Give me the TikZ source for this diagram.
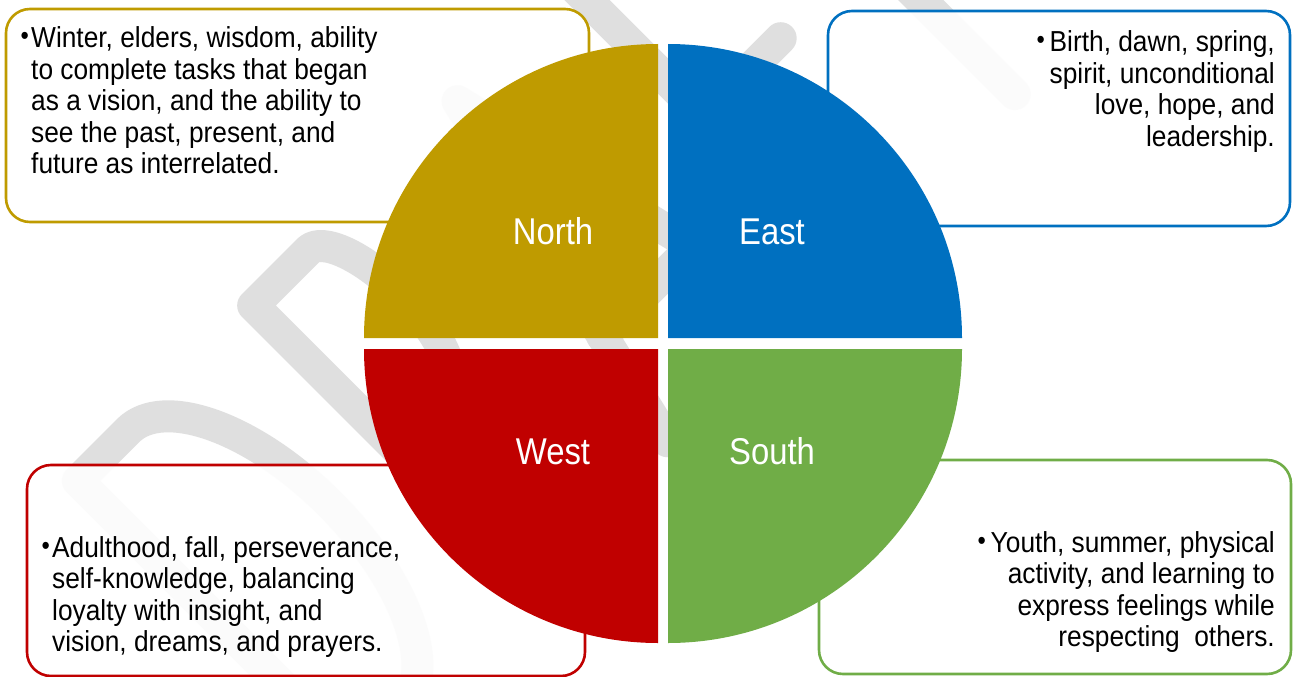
\documentclass[tikz,border=0pt]{standalone}
\usepackage{fontspec}
\setmainfont[FakeStretch=0.91]{Liberation Sans}
\newfontfamily\labelfamily[FakeStretch=0.88]{Liberation Sans}
\definecolor{northcol}{RGB}{191,155,0}
\definecolor{eastcol}{RGB}{0,112,192}
\definecolor{westcol}{RGB}{192,0,0}
\definecolor{southcol}{RGB}{112,173,71}
\definecolor{wmgray}{RGB}{223,223,223}
\newcommand\txtsize{\fontsize{28.9}{31.5}\selectfont}
\newcommand\dotmark{{\fontsize{26}{26}\selectfont\raisebox{3pt}{•}}}
\tikzset{
  infobox/.style={fill=white, fill opacity=0.9, line width=2.6pt, rounded corners=24pt},
  dirlabel/.style={text=white, inner sep=0pt, anchor=base, font=\labelfamily\fontsize{37.3}{40}\selectfont},
  bodytext/.style={inner sep=0pt, font=\txtsize, text=black},
  wmstroke/.style={draw=wmgray, line width=32pt, line cap=round, line join=round}
}
\begin{document}
\begin{tikzpicture}[x=1pt,y=-1pt]
\useasboundingbox (0,0) rectangle (1296,677);
\fill[white] (0,0) rectangle (1296,677);

% watermark lettering, drawn as stroked skeletons on a 45 degree baseline
\begin{scope}[shift={(554.4pt,-554.4pt)}, x={(0.7071pt,0.7071pt)}, y={(-0.7071pt,0.7071pt)}, wmstroke]
  % D
  \draw (-285,0) -- (-285,389) -- (-214,389)
        arc[start angle=90, end angle=-90, x radius=91, y radius=194.5] -- cycle;
  % R
  \draw (-37,0) -- (-37,389) -- (41,389)
        arc[start angle=90, end angle=-90, x radius=35, y radius=97] -- (-37,195);
  \draw (20,195) -- (95,0);
  % A
  \draw (160,0) -- (252,389) -- (344,0);
  \draw (188,120) -- (316,120);
  % F
  \draw (540,389) -- (415,389) -- (415,0);
  \draw (415,205) -- (525,205);
  % T
  \draw (570,389) -- (732,389);
  \draw (651,389) -- (651,0);
\end{scope}

% description boxes
\path[infobox, draw=northcol] (6,9) rectangle (589,222);
\path[infobox, draw=eastcol] (828,11) rectangle (1290,226);
\path[infobox, draw=westcol] (27,465) rectangle (585,676);
\path[infobox, draw=southcol] (819,460) rectangle (1291,674);

% the four quarters of the wheel
\fill[northcol] (658,338) -- (364,338) arc[start angle=180, end angle=270, radius=294] -- cycle;
\fill[eastcol]  (668,338) -- (668,44)  arc[start angle=270, end angle=360, radius=294] -- cycle;
\fill[westcol]  (658,349) -- (364,349) arc[start angle=180, end angle=90,  radius=294] -- cycle;
\fill[southcol] (668,349) -- (962,349) arc[start angle=0,   end angle=90,  radius=294] -- cycle;

\node[dirlabel] (north) at (553,244) {North};
\node[dirlabel] (east)  at (772,244) {East};
\node[dirlabel] (west)  at (553,464) {West};
\node[dirlabel] (south) at (772,464) {South};

% North text
\node[bodytext, anchor=base east] (nbul) at (29,48) {\dotmark};
\node[bodytext, anchor=base west] (ntext) at (31,48) {\parbox[t]{420pt}{\raggedright
  Winter, elders, wisdom, ability\\
  to complete tasks that began\\
  as a vision, and the ability to\\
  see the past, present, and\\
  future as interrelated.}};

% East text
\node[bodytext, anchor=base east] (etext) at (1275,52) {\parbox[t]{400pt}{\raggedleft
  \dotmark\,Birth, dawn, spring,\\
  spirit, unconditional\\
  love, hope, and\\
  leadership.}};

% West text
\node[bodytext, anchor=base east] (wbul) at (50,557) {\dotmark};
\node[bodytext, anchor=base west] (wtext) at (52,557) {\parbox[t]{440pt}{\raggedright
  Adulthood, fall, perseverance,\\
  self-knowledge, balancing\\
  loyalty with insight, and\\
  vision, dreams, and prayers.}};

% South text
\node[bodytext, anchor=base east] (stext) at (1275,552) {\parbox[t]{420pt}{\raggedleft
  \dotmark\,Youth, summer, physical\\
  activity, and learning to\\
  express feelings while\\
  respecting\ \ others.}};
\end{tikzpicture}
\end{document}
